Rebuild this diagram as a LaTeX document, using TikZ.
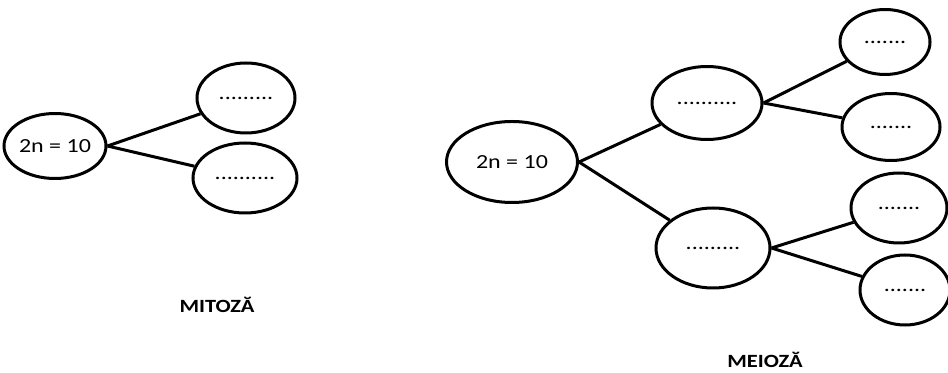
\documentclass[tikz,border=0pt]{standalone}
\usepackage{fontspec}
\setmainfont{Carlito}[FakeStretch=1.2]
\usetikzlibrary{shapes.geometric}
\tikzset{
  cell/.style={ellipse, draw=black, line width=2.25pt, fill=white, inner sep=0pt, font=\fontsize{15}{17}\selectfont},
  link/.style={line width=2.25pt},
  title/.style={font=\bfseries\fontsize{14}{16}\selectfont},
}

\begin{document}
\begin{tikzpicture}[x=0.75pt, y=-0.75pt]
  \useasboundingbox (0,0) rectangle (948,373);

  % mitoza
  \node[cell, minimum width=76.5pt, minimum height=48.75pt] (mitP) at (55,146) {2n = 10};
  \node[cell, minimum width=73.5pt, minimum height=52.5pt] (mitA) at (246,98) {.........};
  \node[cell, minimum width=78pt, minimum height=52.5pt] (mitB) at (245,178) {..........};
  \draw[link] (mitP.east) -- (mitA);
  \draw[link] (mitP.east) -- (mitB);
  \node[title] (mitT) at (217,305) {MITOZĂ};

  % meioza
  \node[cell, minimum width=98.25pt, minimum height=60.75pt] (meiP) at (512,162) {2n = 10};
  \node[cell, minimum width=82.5pt, minimum height=54.75pt] (meiA) at (707,103) {..........};
  \node[cell, minimum width=85.5pt, minimum height=60pt] (meiB) at (713,248) {.........};
  \draw[link] (meiP.east) -- (meiA);
  \draw[link] (meiP.east) -- (meiB);

  % second division
  \node[cell, minimum width=67.5pt, minimum height=48.75pt] (meiA1) at (885,42) {.......};
  \node[cell, minimum width=73.5pt, minimum height=50.25pt] (meiA2) at (891,127) {.......};
  \node[cell, minimum width=72pt, minimum height=52.5pt] (meiB1) at (899,208) {.......};
  \node[cell, minimum width=67.5pt, minimum height=52.5pt] (meiB2) at (905,290) {.......};
  \draw[link] (meiA.east) -- (meiA1);
  \draw[link] (meiA.east) -- (meiA2);
  \draw[link] (meiB.east) -- (meiB1);
  \draw[link] (meiB.east) -- (meiB2);
  \node[title] (meiT) at (765,360) {MEIOZĂ};

\end{tikzpicture}
\end{document}
